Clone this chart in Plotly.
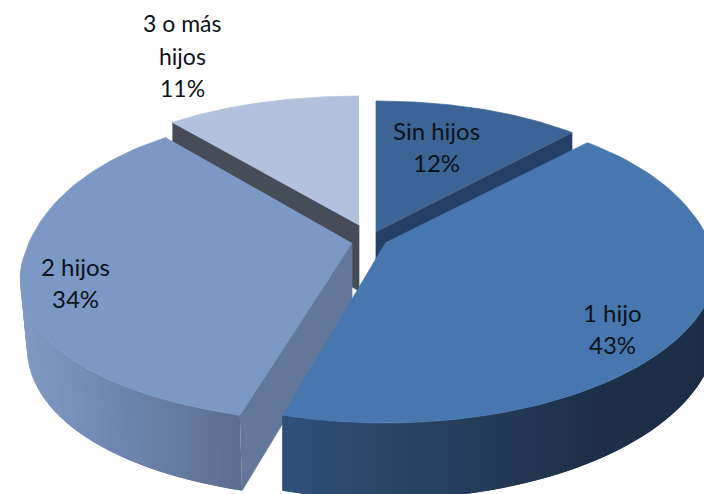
import math
import plotly.graph_objects as go

# Data
categories = ["Sin hijos", "1 hijo", "2 hijos", "3 o más hijos"]
values = [12, 43, 34, 11]

# Styles / geometry of the exploded 3D pie
apex_x = [376, 385, 352, 359]
apex_y = [232, 243, 243, 225]
radius_x = [322, 332, 330, 331]
front_stretch = [0, 0, 0.105, 0]
rim_shift = [1, 0, 0, 3]
taper = [1.0, 1.0, 0.98, 1.0]
top_colors = ["#3c6596", "#4877af", "#7c98c4", "#b3c2dc"]
edge_colors = ["#233f66", None, "#63779b", "#474d58"]
side_stops = [None,
              [(283, "#2f507c"), (420, "#28425f"), (600, "#1d2f48"), (704, "#1c2d45")],
              [(20, "#819ac3"), (110, "#6f88b1"), (240, "#5b6d8f")],
              None]
label_lines = [["Sin hijos", "12%"], ["1 hijo", "43%"], ["2 hijos", "34%"], ["3 o más", "hijos", "11%"]]
label_x = [436, 612, 75, 182]
label_y = [130, 312, 266, 23]
line_gap = 32.5
STRIPS = 70


def project(i, t):
    u, v = math.sin(t), -math.cos(t)
    sx = 1 + 0.15 * min(v, 0) + front_stretch[i] * max(v, 0)
    x = apex_x[i] + radius_x[i] * u * sx
    dy = 20 + 160 * v if v >= 0 else 20 + v * (200 - 48 * abs(v))
    return x, apex_y[i] + dy + rim_shift[i], v


def project_bottom(i, t):
    x, y, v = project(i, t)
    return apex_x[i] + (x - apex_x[i]) * taper[i], y + 66 + 10 * v


def mix(stops, x):
    x = max(stops[0][0], min(stops[-1][0], x))
    for (a, ca), (b, cb) in zip(stops, stops[1:]):
        if x <= b:
            f = (x - a) / (b - a)
            c = [round(int(ca[k:k + 2], 16) * (1 - f) + int(cb[k:k + 2], 16) * f) for k in (1, 3, 5)]
            return "rgb(%d,%d,%d)" % tuple(c)
    return stops[-1][1]


fig = go.Figure()


def poly(xs, ys, color, width=0.7):
    fig.add_trace(go.Scatter(x=xs, y=ys, mode="lines", fill="toself", fillcolor=color,
                             line=dict(color=color, width=width), hoverinfo="skip",
                             showlegend=False))


total = sum(values)
bounds = [0]
for val in values:
    bounds.append(bounds[-1] + val / total * 2 * math.pi)

for i in [3, 0, 2, 1]:
    t0, t1 = bounds[i], bounds[i + 1]
    # straight cut face
    if edge_colors[i]:
        te = t1 if i == 0 else t0
        x, y, _ = project(i, te)
        xb, yb = project_bottom(i, te)
        poly([x, apex_x[i], apex_x[i], xb], [y, apex_y[i], apex_y[i] + 66, yb], edge_colors[i])
    # curved wall: each strip overlaps the next so no seams appear
    if side_stops[i]:
        a, b = max(t0, math.pi / 2), min(t1, 3 * math.pi / 2)
        for s in range(STRIPS):
            ta = a + (b - a) * s / STRIPS
            tb = a + (b - a) * min(s + 2, STRIPS) / STRIPS
            tm = a + (b - a) * (s + 0.5) / STRIPS
            xs, ys = [], []
            for k in range(5):
                p = project(i, ta + (tb - ta) * k / 4)
                xs.append(p[0])
                ys.append(p[1])
            for k in range(4, -1, -1):
                p = project_bottom(i, ta + (tb - ta) * k / 4)
                xs.append(p[0])
                ys.append(p[1])
            poly(xs, ys, mix(side_stops[i], project(i, tm)[0]), width=0)
    # top face
    n = 80
    xs, ys = [apex_x[i]], [apex_y[i]]
    for s in range(n + 1):
        px, py, _ = project(i, t0 + (t1 - t0) * s / n)
        xs.append(px)
        ys.append(py)
    poly(xs, ys, top_colors[i])

annotations = []
for i, lines in enumerate(label_lines):
    for j, line in enumerate(lines):
        annotations.append(dict(x=label_x[i], y=label_y[i] + j * line_gap, text=line, showarrow=False,
                                xanchor="center", yanchor="middle", xref="x", yref="y",
                                font=dict(family="Lato", size=24 if i < 3 else 23, color="#0c121a")))

fig.update_layout(width=704, height=494, margin=dict(l=0, r=0, t=0, b=0),
                  paper_bgcolor="white", plot_bgcolor="white", annotations=annotations,
                  xaxis=dict(range=[0, 704], visible=False, fixedrange=True),
                  yaxis=dict(range=[494, 0], visible=False, fixedrange=True))
fig.write_html("out.html", post_script="document.body.style.margin='0';document.body.style.overflow='hidden';",
               config={"displayModeBar": False})
